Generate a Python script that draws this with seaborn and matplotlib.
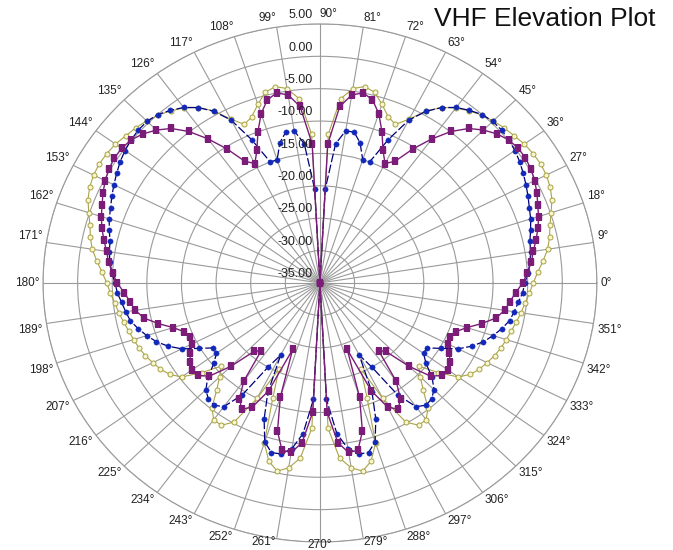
import numpy as np
import pandas as pd
import matplotlib
matplotlib.use("Agg")
import matplotlib.pyplot as plt
import seaborn as sns

# Elevation angles (deg) for the right half of the pattern; the left half mirrors it
elev = list(range(-90, 91, 3))

yellow_db = [-35, -12.5, -7.8, -6.1, -5.3, -6.5, -9.0, -16.0, -20.5, -15.0,
             -10.2, -8.8, -8.9, -10.2, -12.7, -14.5, -15.8, -13.0, -10.3, -9.1,
             -8.4, -7.9, -7.4, -7.0, -6.7, -6.4, -6.0, -5.6, -5.2, -4.7,
             -4.2, -3.5, -2.6, -1.7, -1.1, -0.6, 0.1, 0.9, 1.4, 1.7,
             1.8, 1.7, 1.5, 1.1, 0.8, 0.4, -0.1, -0.8, -1.6, -2.7,
             -4.3, -6.6, -8.2, -7.5, -6.0, -4.5, -4.0, -4.6, -6.4, -12.0, -35]

purple_db = [-35, -15.0, -10.2, -8.5, -8.6, -11.3, -16.5, -24.0, -16.8, -13.5,
             -12.5, -13.6, -16.3, -21.5, -20.8, -16.8, -13.5, -12.3, -12.1, -12.6,
             -13.4, -14.3, -14.4, -14.0, -12.7, -10.8, -9.0, -8.0, -7.4, -6.7,
             -5.7, -5.0, -4.3, -3.8, -3.1, -2.4, -1.8, -1.3, -0.7, -0.2,
             0.2, 0.4, 0.4, 0.1, -0.6, -1.6, -2.9, -4.9, -7.5, -10.3,
             -13.3, -14.3, -12.6, -10.0, -7.5, -5.7, -5.0, -5.6, -7.6, -13.5, -35]

blue_db = [-35, -17.0, -11.6, -9.1, -8.0, -7.9, -9.2, -12.5, -16.5, -22.5,
           -20.0, -14.4, -11.4, -10.7, -10.9, -11.7, -13.2, -15.3, -16.5, -16.6,
           -14.8, -12.6, -11.0, -9.7, -8.7, -7.8, -7.0, -6.6, -6.2, -5.7,
           -5.4, -4.9, -4.5, -4.2, -4.0, -3.5, -3.0, -2.6, -2.1, -1.6,
           -1.1, -0.6, -0.2, 0.1, 0.3, 0.3, 0.0, -0.7, -1.5, -2.7,
           -4.4, -6.8, -10.8, -15.0, -15.0, -12.6, -11.2, -11.2, -13.4, -20.5, -35]

angle_ticks = list(range(0, 360, 9))
angle_labels = [f"{a}\u00b0" for a in angle_ticks]
ring_values = [-35, -30, -25, -20, -15, -10, -5, 0, 5]
ring_labels = ["-35.00", "-30.00", "-25.00", "-20.00", "-15.00", "-10.00", "-5.00", "0.00", "5.00"]
title_text = "VHF Elevation Plot"


def full_pattern(vals):
    ang = elev + [180 - e for e in elev[::-1][1:]]
    vv = list(vals) + list(vals[::-1][1:])
    return pd.DataFrame({"theta": np.deg2rad(ang), "db": vv})


sns.set_style("white")
plt.rcParams["font.family"] = ["Liberation Sans", "DejaVu Sans"]

fig = plt.figure(figsize=(6.73, 5.5), dpi=100)
ax = fig.add_axes([0.0639, 0.0145, 0.823, 0.942], projection="polar")
ax.set_aspect("auto")

grid_col = "#9a9a9a"

# series
yl = full_pattern(yellow_db)
sns.lineplot(data=yl, x="theta", y="db", ax=ax, sort=False, estimator=None,
             color="#aaa448", lw=0.8, marker="o", markersize=3.6,
             markerfacecolor="#f8f6d2", markeredgecolor="#a8a240", markeredgewidth=0.7,
             zorder=3)
bl = full_pattern(blue_db)
sns.lineplot(data=bl, x="theta", y="db", ax=ax, sort=False, estimator=None,
             color="#00007a", lw=0.9, linestyle=(0, (7, 2)), marker="o", markersize=3.8,
             markerfacecolor="#1228b8", markeredgecolor="#1228b8", markeredgewidth=0.3,
             zorder=4)
pl = full_pattern(purple_db)
sns.lineplot(data=pl, x="theta", y="db", ax=ax, sort=False, estimator=None,
             color="#7a1c78", lw=1.0, marker="s", markersize=4.6,
             markerfacecolor="#7a1c78", markeredgecolor="#7a1c78", markeredgewidth=0.3,
             zorder=5)

ax.set_ylim(-35, 5)
ax.set_yticks(ring_values[1:])
ax.set_yticklabels([])
ax.set_xticks(np.deg2rad(angle_ticks))
ax.set_xticklabels([])
ax.grid(True, color=grid_col, lw=0.8)
ax.spines["polar"].set_color(grid_col)
ax.spines["polar"].set_linewidth(0.8)
ax.set_xlabel("")
ax.set_ylabel("")

# angle labels just outside the outer ring, anchored on the ring
for a, lab in zip(angle_ticks, angle_labels):
    t = np.deg2rad(a)
    c, s = np.cos(t), np.sin(t)
    if a == 90 or c > 1e-6:
        ha = "left"
    elif c < -1e-6:
        ha = "right"
    else:
        ha = "center"
    if s > 1e-6:
        va = "bottom"
        dy = 2.6 * s
    elif s < -1e-6:
        va = "top"
        dy = 1.2 * s
    else:
        va = "center"
        dy = 0
    if s < -0.97:
        dy = 2.0
    ax.annotate(lab, xy=(t, 5), xytext=(2.6 * c, dy), textcoords="offset points",
                ha=ha, va=va, fontsize=8.5, color="#222222", annotation_clip=False)

for v, lab in zip(ring_values, ring_labels):
    ax.annotate(lab, xy=(np.pi / 2, v), xytext=(-5, 2), textcoords="offset points",
                ha="right", va="bottom", fontsize=9, color="#222222", zorder=6)

fig.text(655 / 673, 1 - 19 / 550, title_text, ha="right", va="center",
         fontsize=19, color="#111111")

fig.savefig("out.png", dpi=100)
